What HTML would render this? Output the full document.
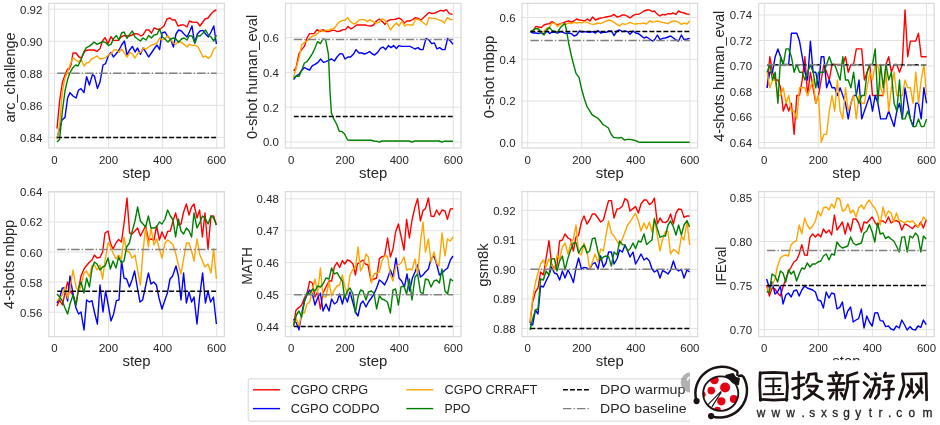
<!DOCTYPE html>
<html><head><meta charset="utf-8"><title>figure</title>
<style>html,body{margin:0;padding:0;background:#fff;}body{width:940px;height:425px;overflow:hidden;font-family:"Liberation Sans",sans-serif;}svg{display:block;will-change:transform;}</style>
</head><body>
<svg width="940" height="425" viewBox="0 0 940 425" font-family="'Liberation Sans', sans-serif" fill="#262626">
<rect width="940" height="425" fill="#fff"/>
<path d="M54.50 3.40V148.00M108.56 3.40V148.00M162.62 3.40V148.00M216.68 3.40V148.00M48.80 9.20H224.40M48.80 41.25H224.40M48.80 73.30H224.40M48.80 105.35H224.40M48.80 137.40H224.40" stroke="#e2e2e2" stroke-width="1" fill="none"/>
<clipPath id="c0"><rect x="48.80" y="3.40" width="175.60" height="144.60"/></clipPath>
<g clip-path="url(#c0)" fill="none" stroke-width="1.4" stroke-linejoin="round" stroke-linecap="butt">
<path d="M57.0 128.6L59.6 101.0L62.4 82.6L65.0 75.0L67.6 69.0L69.0 69.4L71.0 65.0L73.0 53.0L76.0 53.0L79.0 57.0L81.4 58.0L85.0 51.0L88.0 50.0L94.0 50.0L97.0 51.4L100.0 48.6L102.4 41.0L105.0 37.6L108.0 43.6L111.0 36.6L113.4 40.4L118.4 40.4L121.0 37.0L124.0 35.6L129.4 36.0L132.0 35.0L135.0 33.6L138.0 34.0L141.0 36.0L143.4 34.4L146.0 30.0L149.0 30.0L151.4 33.2L154.0 28.0L157.0 29.2L160.0 29.2L164.0 26.0L167.0 19.0L170.0 18.0L172.4 20.0L175.0 19.6L178.0 26.0L181.0 25.0L184.0 25.0L187.0 27.0L189.4 21.0L192.0 22.0L197.4 22.4L200.0 26.0L205.0 19.0L208.0 18.0L211.0 14.0L214.0 11.0L216.4 10.0" stroke="#ff0000"/>
<path d="M57.0 138.0L60.0 127.0L62.0 120.0L65.0 117.4L67.6 98.0L70.0 92.6L73.0 96.0L76.0 98.0L78.6 90.0L81.0 88.6L84.0 92.6L86.6 76.6L89.4 85.0L92.4 74.6L94.4 76.0L97.4 88.4L100.0 82.0L103.0 65.0L105.6 63.6L108.4 55.6L111.0 52.4L113.4 57.0L116.0 54.0L119.0 50.0L121.6 45.0L124.4 41.0L127.0 55.0L129.6 50.0L132.4 46.4L135.0 52.0L137.6 48.0L140.4 54.4L143.0 48.0L146.0 52.4L148.6 57.0L151.4 53.0L154.0 49.0L157.0 45.0L159.6 49.6L162.0 33.0L165.0 32.0L168.0 37.0L170.6 39.0L173.4 47.0L176.0 34.0L178.6 30.0L181.4 31.0L184.0 34.0L187.0 37.0L189.4 32.0L192.0 26.0L194.6 43.0L197.4 34.0L200.0 31.0L203.0 30.4L205.6 34.0L208.4 37.0L211.0 32.0L213.8 26.0L216.4 44.0" stroke="#0000ff"/>
<path d="M57.0 139.4L59.6 125.0L62.4 91.0L65.0 78.0L67.6 72.0L70.0 65.0L73.0 58.0L76.0 60.0L78.6 62.0L81.0 59.0L84.0 66.0L86.4 63.0L89.0 62.4L91.6 59.0L94.4 57.6L97.0 56.0L100.0 59.0L103.0 58.4L105.6 57.6L108.4 55.0L111.0 53.6L114.0 50.0L116.6 49.6L119.0 52.4L121.6 49.0L124.4 53.0L127.0 57.0L130.0 52.4L132.4 54.0L135.0 58.0L138.0 53.0L140.6 52.4L143.4 48.0L146.0 49.0L148.6 47.0L151.4 45.0L154.0 44.4L157.0 43.0L159.6 38.0L162.4 40.0L165.0 38.4L168.0 36.0L170.6 39.0L173.4 43.0L176.0 44.4L178.6 41.0L181.4 42.4L184.0 44.4L187.0 47.0L189.4 44.0L192.0 45.6L195.0 45.0L198.0 47.0L200.6 52.0L203.0 57.0L205.6 56.0L208.4 58.4L211.0 56.0L213.8 49.0L216.4 47.0" stroke="#ffa500"/>
<path d="M57.0 142.0L59.6 139.4L62.4 111.0L65.0 91.0L67.6 79.4L70.0 72.6L73.0 67.4L75.6 65.0L78.0 66.0L81.0 60.0L83.6 52.4L86.4 47.6L89.0 46.4L91.6 44.4L94.0 42.0L97.0 44.4L100.0 43.0L103.0 41.6L105.6 42.6L108.4 45.6L111.0 44.4L113.6 38.4L116.4 35.6L119.0 40.0L121.6 33.0L124.0 32.0L127.0 38.4L129.6 34.4L132.4 31.0L135.0 37.0L137.6 39.0L140.4 41.0L143.0 38.0L146.0 40.0L148.6 35.6L151.4 38.0L154.0 35.0L157.0 34.4L159.6 29.0L162.4 37.0L165.0 39.0L168.0 42.0L170.6 39.0L173.4 38.0L176.0 39.0L178.6 42.4L181.4 39.0L184.0 38.0L187.0 40.0L189.4 35.6L192.0 36.0L195.0 43.0L197.6 35.6L200.0 36.0L203.0 33.0L205.6 30.0L208.4 35.0L211.0 37.0L213.8 41.0L216.4 35.0" stroke="#008000"/>
<path d="M57.20 137.40H216.68" stroke="#000" stroke-width="1.5" stroke-dasharray="4.9 2.1"/>
<path d="M57.20 73.30H216.68" stroke="#808080" stroke-width="1.5" stroke-dasharray="8.45 2.11 1.32 2.11"/>
</g>
<rect x="48.80" y="3.40" width="175.60" height="144.60" fill="none" stroke="#dbdbdb" stroke-width="1.25"/>
<text x="42.30" y="13.60" font-size="10.6" text-anchor="end" textLength="22.26" lengthAdjust="spacingAndGlyphs">0.92</text>
<text x="42.30" y="45.65" font-size="10.6" text-anchor="end" textLength="22.26" lengthAdjust="spacingAndGlyphs">0.90</text>
<text x="42.30" y="77.70" font-size="10.6" text-anchor="end" textLength="22.26" lengthAdjust="spacingAndGlyphs">0.88</text>
<text x="42.30" y="109.75" font-size="10.6" text-anchor="end" textLength="22.26" lengthAdjust="spacingAndGlyphs">0.86</text>
<text x="42.30" y="141.80" font-size="10.6" text-anchor="end" textLength="22.26" lengthAdjust="spacingAndGlyphs">0.84</text>
<text x="54.50" y="163.70" font-size="10.6" text-anchor="middle" textLength="6.36" lengthAdjust="spacingAndGlyphs">0</text>
<text x="108.56" y="163.70" font-size="10.6" text-anchor="middle" textLength="19.08" lengthAdjust="spacingAndGlyphs">200</text>
<text x="162.62" y="163.70" font-size="10.6" text-anchor="middle" textLength="19.08" lengthAdjust="spacingAndGlyphs">400</text>
<text x="216.68" y="163.70" font-size="10.6" text-anchor="middle" textLength="19.08" lengthAdjust="spacingAndGlyphs">600</text>
<text x="136.60" y="177.80" font-size="14.0" text-anchor="middle" textLength="28.12" lengthAdjust="spacingAndGlyphs">step</text>
<text x="14.75" y="77.50" font-size="14.0" text-anchor="middle" textLength="90.04" lengthAdjust="spacingAndGlyphs" transform="rotate(-90 14.75 77.50)">arc_challenge</text>
<path d="M291.10 3.40V148.00M345.16 3.40V148.00M399.22 3.40V148.00M453.28 3.40V148.00M285.40 37.60H461.00M285.40 72.40H461.00M285.40 107.20H461.00M285.40 142.00H461.00" stroke="#e2e2e2" stroke-width="1" fill="none"/>
<clipPath id="c1"><rect x="285.40" y="3.40" width="175.60" height="144.60"/></clipPath>
<g clip-path="url(#c1)" fill="none" stroke-width="1.4" stroke-linejoin="round" stroke-linecap="butt">
<path d="M293.6 71.0L296.0 68.0L299.0 53.6L301.6 49.6L304.4 46.4L307.0 38.0L309.6 33.6L314.0 33.6L317.0 29.6L320.0 31.6L323.0 29.6L325.6 31.6L329.0 31.6L332.0 30.4L334.6 30.4L337.4 31.6L340.0 31.0L343.0 29.6L345.4 29.6L348.0 26.4L351.0 29.0L354.0 27.0L356.6 25.0L365.0 25.0L367.6 25.6L370.6 26.0L373.6 25.0L376.4 21.0L379.4 19.0L382.4 21.6L385.0 24.4L387.6 21.0L390.4 19.6L393.4 19.6L396.0 19.0L399.0 18.0L401.6 19.6L404.4 23.0L407.0 21.0L410.0 21.0L412.6 19.6L415.4 17.6L418.0 18.4L421.0 20.0L423.6 17.6L426.4 15.0L429.0 12.4L432.0 13.6L435.0 13.0L438.0 11.6L440.6 10.4L443.4 11.0L446.4 9.6L449.4 13.6L452.6 14.4" stroke="#ff0000"/>
<path d="M293.6 79.6L296.4 75.6L299.0 74.4L301.6 70.4L304.4 67.6L307.0 69.0L309.6 70.0L312.4 65.6L315.0 64.4L318.0 62.4L320.6 59.0L323.4 62.4L326.0 61.6L329.0 60.0L331.6 59.0L334.4 61.0L337.0 57.0L340.0 53.6L342.6 54.0L345.0 59.0L348.0 57.0L350.6 57.0L353.6 54.0L356.0 49.6L359.0 53.0L362.0 53.0L364.4 54.0L367.0 53.0L369.6 51.6L372.4 54.0L374.6 55.0L377.6 52.4L380.4 48.4L383.0 47.0L385.6 49.6L388.4 45.6L391.0 47.6L393.6 45.6L396.4 48.4L399.0 45.6L401.6 46.4L410.0 46.4L415.0 49.0L418.0 47.6L420.4 49.6L423.0 49.6L426.0 38.4L429.0 40.0L431.6 43.6L434.4 43.0L437.0 49.0L439.6 47.6L442.4 49.6L445.0 49.6L447.6 38.4L450.4 41.0L453.0 44.4" stroke="#0000ff"/>
<path d="M293.6 77.0L296.0 69.0L299.0 58.0L301.6 45.0L304.4 42.4L307.0 41.0L309.6 38.4L312.4 36.0L315.0 35.6L318.0 33.0L320.6 30.0L323.4 31.6L326.0 30.4L329.0 30.0L332.0 29.0L334.6 28.0L337.4 24.0L340.0 21.6L342.6 20.4L345.0 20.4L347.6 17.6L350.6 21.6L353.6 24.0L356.4 23.0L359.0 20.0L361.6 19.6L364.4 19.6L367.0 21.6L370.0 19.6L373.0 21.6L376.0 23.0L379.0 22.4L381.6 19.0L384.6 19.6L387.4 23.6L390.4 30.0L393.4 26.0L396.4 23.0L399.0 26.0L402.0 21.0L404.6 26.0L407.4 24.4L410.4 25.0L413.0 25.0L415.6 19.0L418.4 19.6L421.0 21.0L423.6 23.0L426.4 25.0L429.0 17.6L432.0 18.4L435.0 18.4L438.0 19.6L441.0 20.4L444.4 23.0L447.4 17.6L450.4 19.6L452.6 19.6" stroke="#ffa500"/>
<path d="M293.6 78.0L296.4 76.0L299.0 76.4L301.6 70.4L304.4 63.0L307.0 61.6L309.6 58.0L312.4 53.6L315.0 48.0L317.6 41.6L320.4 43.6L323.0 39.0L325.6 39.6L328.4 54.0L330.0 91.0L331.4 113.0L334.0 119.4L336.6 124.0L339.4 131.4L342.0 131.4L344.6 134.0L347.6 140.0L351.0 140.2L371.0 140.2L374.0 141.0L376.6 141.2L379.4 142.2L382.0 141.0L409.0 141.0L412.0 142.2L414.6 141.0L439.0 141.0L442.0 142.2L444.6 141.2L453.0 141.2" stroke="#008000"/>
<path d="M293.80 116.40H453.28" stroke="#000" stroke-width="1.5" stroke-dasharray="4.9 2.1"/>
<path d="M293.80 39.40H453.28" stroke="#808080" stroke-width="1.5" stroke-dasharray="8.45 2.11 1.32 2.11"/>
</g>
<rect x="285.40" y="3.40" width="175.60" height="144.60" fill="none" stroke="#dbdbdb" stroke-width="1.25"/>
<text x="278.90" y="42.00" font-size="10.6" text-anchor="end" textLength="15.90" lengthAdjust="spacingAndGlyphs">0.6</text>
<text x="278.90" y="76.80" font-size="10.6" text-anchor="end" textLength="15.90" lengthAdjust="spacingAndGlyphs">0.4</text>
<text x="278.90" y="111.60" font-size="10.6" text-anchor="end" textLength="15.90" lengthAdjust="spacingAndGlyphs">0.2</text>
<text x="278.90" y="146.40" font-size="10.6" text-anchor="end" textLength="15.90" lengthAdjust="spacingAndGlyphs">0.0</text>
<text x="291.10" y="163.70" font-size="10.6" text-anchor="middle" textLength="6.36" lengthAdjust="spacingAndGlyphs">0</text>
<text x="345.16" y="163.70" font-size="10.6" text-anchor="middle" textLength="19.08" lengthAdjust="spacingAndGlyphs">200</text>
<text x="399.22" y="163.70" font-size="10.6" text-anchor="middle" textLength="19.08" lengthAdjust="spacingAndGlyphs">400</text>
<text x="453.28" y="163.70" font-size="10.6" text-anchor="middle" textLength="19.08" lengthAdjust="spacingAndGlyphs">600</text>
<text x="373.20" y="177.80" font-size="14.0" text-anchor="middle" textLength="28.12" lengthAdjust="spacingAndGlyphs">step</text>
<text x="257.00" y="76.90" font-size="14.0" text-anchor="middle" textLength="124.29" lengthAdjust="spacingAndGlyphs" transform="rotate(-90 257.00 76.90)">0-shot human_eval</text>
<path d="M527.70 3.40V148.00M581.76 3.40V148.00M635.82 3.40V148.00M689.88 3.40V148.00M522.00 17.60H697.60M522.00 59.33H697.60M522.00 101.07H697.60M522.00 142.80H697.60" stroke="#e2e2e2" stroke-width="1" fill="none"/>
<clipPath id="c2"><rect x="522.00" y="3.40" width="175.60" height="144.60"/></clipPath>
<g clip-path="url(#c2)" fill="none" stroke-width="1.4" stroke-linejoin="round" stroke-linecap="butt">
<path d="M530.6 31.6L533.4 30.0L536.0 26.4L538.6 27.0L541.4 27.6L544.0 25.0L547.0 24.0L549.6 23.6L552.0 21.6L555.0 23.6L557.6 25.0L560.4 23.6L563.0 23.0L566.0 21.6L568.6 21.0L571.4 22.0L574.0 21.0L576.6 19.0L579.4 20.0L582.0 20.4L584.6 21.0L587.4 19.0L590.0 21.0L592.6 17.0L595.4 20.0L598.0 19.0L600.6 18.0L603.4 17.6L606.0 17.0L609.0 16.4L611.6 16.0L614.0 14.4L617.0 17.0L619.6 16.4L622.4 15.0L625.0 15.0L627.6 16.4L630.0 18.0L633.0 15.6L635.6 14.4L638.4 14.4L641.0 13.0L644.0 11.0L647.0 10.0L649.6 10.0L652.4 11.6L654.4 11.0L657.4 14.4L660.0 16.0L662.6 14.4L665.4 15.0L668.0 13.6L670.6 14.0L673.4 13.0L676.0 14.4L678.6 11.0L681.4 12.4L684.0 13.0L687.0 14.0L689.6 14.4" stroke="#ff0000"/>
<path d="M530.6 32.0L533.4 33.0L536.0 33.0L538.6 33.6L541.4 32.4L544.0 34.0L547.0 31.0L549.6 33.6L552.0 32.0L555.0 32.4L557.6 33.0L560.4 31.6L563.0 32.4L566.0 33.6L568.6 33.0L571.4 33.6L574.0 36.0L576.6 35.0L579.4 31.0L582.0 32.0L584.6 31.6L587.4 32.0L590.0 32.4L592.6 31.6L595.4 33.0L598.0 30.4L600.6 33.0L603.4 32.0L606.0 32.4L609.0 31.0L611.6 31.0L614.0 35.6L617.0 31.0L619.6 30.0L622.4 31.6L625.0 31.0L627.6 31.6L630.0 34.4L633.0 31.0L635.6 33.0L638.4 33.6L641.0 35.6L644.0 38.0L646.6 37.0L649.6 39.0L652.4 41.0L654.4 40.0L657.4 35.0L660.0 39.6L662.6 38.4L665.4 38.0L668.0 37.0L670.6 36.0L673.4 38.0L676.0 40.0L678.6 41.0L681.4 35.0L684.0 39.6L687.0 39.0L689.6 38.4" stroke="#0000ff"/>
<path d="M530.6 31.6L533.4 30.4L536.0 28.0L538.6 30.0L541.4 32.4L544.0 31.6L547.0 28.0L549.6 27.0L552.0 23.0L555.0 23.6L557.6 26.4L560.4 24.0L563.0 23.6L566.0 24.4L568.6 23.0L571.4 23.6L574.0 22.4L576.6 23.0L579.4 22.4L582.0 23.0L584.6 21.6L587.4 22.4L590.0 23.6L592.6 24.4L595.4 24.0L598.0 23.0L600.6 23.6L603.4 22.4L606.0 21.0L609.0 20.0L611.6 21.0L614.0 22.4L617.0 24.4L619.6 26.0L622.4 23.6L625.0 24.4L627.6 23.6L630.0 22.4L633.0 23.6L635.6 24.0L638.4 23.6L641.0 23.6L644.0 23.0L646.6 24.0L649.6 21.0L652.4 22.0L655.0 21.6L657.4 21.0L660.0 21.6L662.6 22.4L665.4 23.0L668.0 23.6L670.6 22.0L673.4 21.0L676.0 21.0L678.6 22.4L681.4 24.4L684.0 23.0L687.0 24.0L689.6 21.0" stroke="#ffa500"/>
<path d="M530.6 32.0L533.4 30.0L536.0 28.4L538.6 29.0L541.4 33.0L544.0 35.0L547.0 29.6L549.6 27.6L552.0 30.4L555.0 31.6L557.6 32.0L560.4 27.6L563.0 25.0L565.0 23.6L567.0 33.0L568.6 43.0L571.4 56.0L574.0 66.0L576.0 73.4L579.0 77.4L581.6 89.0L584.4 99.0L587.0 106.6L589.6 110.6L592.0 114.6L595.0 116.6L597.6 118.0L600.4 121.0L603.0 124.6L605.6 126.0L608.4 128.0L611.0 134.0L613.6 137.4L616.4 137.8L619.0 138.0L621.6 137.4L624.4 140.0L627.0 139.4L630.0 139.4L633.0 140.0L635.6 140.6L638.4 142.0L641.0 142.2L689.6 142.2" stroke="#008000"/>
<path d="M530.40 31.60H689.88" stroke="#000" stroke-width="1.5" stroke-dasharray="4.9 2.1"/>
<path d="M530.40 40.40H689.88" stroke="#808080" stroke-width="1.5" stroke-dasharray="8.45 2.11 1.32 2.11"/>
</g>
<rect x="522.00" y="3.40" width="175.60" height="144.60" fill="none" stroke="#dbdbdb" stroke-width="1.25"/>
<text x="515.50" y="22.00" font-size="10.6" text-anchor="end" textLength="15.90" lengthAdjust="spacingAndGlyphs">0.6</text>
<text x="515.50" y="63.73" font-size="10.6" text-anchor="end" textLength="15.90" lengthAdjust="spacingAndGlyphs">0.4</text>
<text x="515.50" y="105.47" font-size="10.6" text-anchor="end" textLength="15.90" lengthAdjust="spacingAndGlyphs">0.2</text>
<text x="515.50" y="147.20" font-size="10.6" text-anchor="end" textLength="15.90" lengthAdjust="spacingAndGlyphs">0.0</text>
<text x="527.70" y="163.70" font-size="10.6" text-anchor="middle" textLength="6.36" lengthAdjust="spacingAndGlyphs">0</text>
<text x="581.76" y="163.70" font-size="10.6" text-anchor="middle" textLength="19.08" lengthAdjust="spacingAndGlyphs">200</text>
<text x="635.82" y="163.70" font-size="10.6" text-anchor="middle" textLength="19.08" lengthAdjust="spacingAndGlyphs">400</text>
<text x="689.88" y="163.70" font-size="10.6" text-anchor="middle" textLength="19.08" lengthAdjust="spacingAndGlyphs">600</text>
<text x="609.80" y="177.80" font-size="14.0" text-anchor="middle" textLength="28.12" lengthAdjust="spacingAndGlyphs">step</text>
<text x="494.00" y="76.90" font-size="14.0" text-anchor="middle" textLength="82.59" lengthAdjust="spacingAndGlyphs" transform="rotate(-90 494.00 76.90)">0-shot mbpp</text>
<path d="M764.30 3.40V148.00M818.36 3.40V148.00M872.42 3.40V148.00M926.48 3.40V148.00M758.60 15.00H934.20M758.60 40.50H934.20M758.60 66.00H934.20M758.60 91.50H934.20M758.60 117.00H934.20M758.60 142.50H934.20" stroke="#e2e2e2" stroke-width="1" fill="none"/>
<clipPath id="c3"><rect x="758.60" y="3.40" width="175.60" height="144.60"/></clipPath>
<g clip-path="url(#c3)" fill="none" stroke-width="1.4" stroke-linejoin="round" stroke-linecap="butt">
<path d="M767.1 87.8L769.8 56.7L772.5 72.2L775.2 80.0L777.9 80.0L780.6 87.8L783.3 111.1L786.0 103.3L788.7 111.1L791.4 103.3L794.1 134.4L796.8 95.5L799.5 95.5L802.2 80.0L804.9 56.7L807.6 95.5L810.4 72.2L813.1 87.8L815.8 103.3L818.5 95.5L821.2 80.0L823.9 64.4L826.6 72.2L829.3 80.0L832.0 64.4L834.7 64.4L837.4 64.4L840.1 64.4L842.8 64.4L845.5 56.7L848.2 72.2L850.9 64.4L853.6 64.4L856.3 48.9L859.0 48.9L861.7 48.9L864.4 80.0L867.1 72.2L869.8 64.4L872.5 95.5L875.2 95.5L877.9 95.5L880.6 95.5L883.3 95.5L886.0 64.4L888.7 56.7L891.4 72.2L894.1 64.4L896.8 64.4L899.5 72.2L902.3 64.4L905.0 10.0L907.7 56.7L910.4 41.1L913.1 41.1L915.8 41.1L918.5 33.3L921.2 56.7L923.9 56.7L926.6 56.7" stroke="#ff0000"/>
<path d="M767.1 87.8L769.8 72.2L772.5 72.2L775.2 56.7L777.9 48.9L780.6 56.7L783.3 64.4L786.0 64.4L788.7 64.4L791.4 33.3L794.1 33.3L796.8 33.3L799.5 41.1L802.2 56.7L804.9 72.2L807.6 80.0L810.4 41.1L813.1 72.2L815.8 72.2L818.5 87.8L821.2 56.7L823.9 56.7L826.6 87.8L829.3 80.0L832.0 87.8L834.7 87.8L837.4 95.5L840.1 87.8L842.8 95.5L845.5 103.3L848.2 118.9L850.9 103.3L853.6 95.5L856.3 95.5L859.0 80.0L861.7 118.9L864.4 111.1L867.1 103.3L869.8 95.5L872.5 111.1L875.2 95.5L877.9 103.3L880.6 118.9L883.3 118.9L886.0 118.9L888.7 111.1L891.4 118.9L894.1 126.6L896.8 111.1L899.5 103.3L902.3 118.9L905.0 87.8L907.7 103.3L910.4 118.9L913.1 126.6L915.8 103.3L918.5 103.3L921.2 118.9L923.9 87.8L926.6 103.3" stroke="#0000ff"/>
<path d="M767.1 72.2L769.8 87.8L772.5 80.0L775.2 80.0L777.9 95.5L780.6 95.5L783.3 87.8L786.0 103.3L788.7 95.5L791.4 111.1L794.1 111.1L796.8 118.9L799.5 87.8L802.2 87.8L804.9 87.8L807.6 95.5L810.4 87.8L813.1 80.0L815.8 103.3L818.5 95.5L821.2 142.2L823.9 134.4L826.6 134.4L829.3 111.1L832.0 95.5L834.7 111.1L837.4 80.0L840.1 111.1L842.8 118.9L845.5 87.8L848.2 111.1L850.9 103.3L853.6 95.5L856.3 118.9L859.0 95.5L861.7 103.3L864.4 103.3L867.1 87.8L869.8 72.2L872.5 80.0L875.2 64.4L877.9 64.4L880.6 87.8L883.3 95.5L886.0 72.2L888.7 111.1L891.4 87.8L894.1 72.2L896.8 95.5L899.5 95.5L902.3 95.5L905.0 80.0L907.7 87.8L910.4 87.8L913.1 103.3L915.8 72.2L918.5 103.3L921.2 80.0L923.9 64.4L926.6 95.5" stroke="#ffa500"/>
<path d="M767.1 72.2L769.8 64.4L772.5 80.0L775.2 72.2L777.9 103.3L780.6 56.7L783.3 64.4L786.0 48.9L788.7 48.9L791.4 56.7L794.1 72.2L796.8 64.4L799.5 72.2L802.2 72.2L804.9 80.0L807.6 72.2L810.4 64.4L813.1 72.2L815.8 87.8L818.5 72.2L821.2 72.2L823.9 72.2L826.6 64.4L829.3 56.7L832.0 64.4L834.7 64.4L837.4 72.2L840.1 80.0L842.8 56.7L845.5 80.0L848.2 80.0L850.9 87.8L853.6 72.2L856.3 95.5L859.0 103.3L861.7 95.5L864.4 95.5L867.1 72.2L869.8 64.4L872.5 64.4L875.2 48.9L877.9 103.3L880.6 64.4L883.3 87.8L886.0 64.4L888.7 80.0L891.4 72.2L894.1 103.3L896.8 111.1L899.5 80.0L902.3 118.9L905.0 118.9L907.7 111.1L910.4 118.9L913.1 126.6L915.8 126.6L918.5 118.9L921.2 126.6L923.9 126.6L926.6 118.9" stroke="#008000"/>
<path d="M767.00 64.80H926.48" stroke="#000" stroke-width="1.5" stroke-dasharray="4.9 2.1"/>
<path d="M767.00 64.80H926.48" stroke="#808080" stroke-width="1.5" stroke-dasharray="8.45 2.11 1.32 2.11"/>
</g>
<rect x="758.60" y="3.40" width="175.60" height="144.60" fill="none" stroke="#dbdbdb" stroke-width="1.25"/>
<text x="752.10" y="19.40" font-size="10.6" text-anchor="end" textLength="22.26" lengthAdjust="spacingAndGlyphs">0.74</text>
<text x="752.10" y="44.90" font-size="10.6" text-anchor="end" textLength="22.26" lengthAdjust="spacingAndGlyphs">0.72</text>
<text x="752.10" y="70.40" font-size="10.6" text-anchor="end" textLength="22.26" lengthAdjust="spacingAndGlyphs">0.70</text>
<text x="752.10" y="95.90" font-size="10.6" text-anchor="end" textLength="22.26" lengthAdjust="spacingAndGlyphs">0.68</text>
<text x="752.10" y="121.40" font-size="10.6" text-anchor="end" textLength="22.26" lengthAdjust="spacingAndGlyphs">0.66</text>
<text x="752.10" y="146.90" font-size="10.6" text-anchor="end" textLength="22.26" lengthAdjust="spacingAndGlyphs">0.64</text>
<text x="764.30" y="163.70" font-size="10.6" text-anchor="middle" textLength="6.36" lengthAdjust="spacingAndGlyphs">0</text>
<text x="818.36" y="163.70" font-size="10.6" text-anchor="middle" textLength="19.08" lengthAdjust="spacingAndGlyphs">200</text>
<text x="872.42" y="163.70" font-size="10.6" text-anchor="middle" textLength="19.08" lengthAdjust="spacingAndGlyphs">400</text>
<text x="926.48" y="163.70" font-size="10.6" text-anchor="middle" textLength="19.08" lengthAdjust="spacingAndGlyphs">600</text>
<text x="846.40" y="177.80" font-size="14.0" text-anchor="middle" textLength="28.12" lengthAdjust="spacingAndGlyphs">step</text>
<text x="724.30" y="76.30" font-size="14.0" text-anchor="middle" textLength="131.07" lengthAdjust="spacingAndGlyphs" transform="rotate(-90 724.30 76.30)">4-shots human_eval</text>
<path d="M54.50 191.60V336.60M108.56 191.60V336.60M162.62 191.60V336.60M216.68 191.60V336.60M48.80 192.00H224.40M48.80 222.05H224.40M48.80 252.10H224.40M48.80 282.15H224.40M48.80 312.20H224.40" stroke="#e2e2e2" stroke-width="1" fill="none"/>
<clipPath id="c4"><rect x="48.80" y="191.60" width="175.60" height="145.00"/></clipPath>
<g clip-path="url(#c4)" fill="none" stroke-width="1.4" stroke-linejoin="round" stroke-linecap="butt">
<path d="M57.0 306.0L59.6 300.0L62.4 305.0L65.0 293.0L67.6 282.0L70.0 291.0L73.0 295.0L76.0 305.0L78.6 289.0L81.0 276.0L84.0 269.0L87.0 265.0L89.6 262.0L92.0 260.0L94.4 255.0L97.0 258.0L100.0 257.4L102.6 252.0L105.0 233.0L108.0 231.0L110.4 243.0L113.0 249.0L116.0 243.0L118.6 239.4L121.4 242.0L124.0 224.0L127.0 198.0L129.6 233.0L132.0 234.0L135.0 231.0L137.6 228.0L140.4 236.0L143.0 231.0L145.6 226.0L148.4 240.0L151.0 239.0L154.0 240.0L156.6 226.0L159.4 240.0L162.0 232.0L165.0 239.0L167.6 231.4L170.4 231.0L173.0 221.0L175.6 213.0L178.4 225.0L181.0 224.0L183.6 212.0L186.4 204.0L189.0 215.0L191.6 207.0L194.0 204.0L197.0 218.0L199.6 210.0L202.4 237.0L205.0 213.0L208.0 249.0L211.0 216.0L213.6 216.0L216.4 225.0" stroke="#ff0000"/>
<path d="M57.0 303.0L59.6 298.0L62.4 288.0L65.0 288.0L67.6 301.0L70.0 276.0L73.0 294.0L76.0 308.0L78.6 314.0L81.0 312.0L84.0 330.0L86.6 300.0L89.4 302.0L92.0 300.6L94.4 312.0L97.4 324.0L100.0 285.0L103.0 312.0L105.6 291.0L108.4 306.0L111.0 321.0L113.6 314.0L116.4 300.6L119.0 300.0L121.6 261.0L124.0 278.0L126.6 279.0L129.4 287.0L132.0 280.0L134.6 271.0L137.4 288.0L140.0 302.0L142.6 300.0L145.4 287.0L148.4 273.0L151.0 284.0L153.6 282.0L156.4 285.0L159.0 298.0L162.0 309.0L164.6 301.0L167.4 293.0L170.0 279.0L172.6 276.0L176.0 266.0L178.4 276.0L181.0 300.0L183.6 273.0L186.4 303.0L189.0 292.0L191.6 302.0L194.0 297.0L197.0 324.0L199.6 297.0L202.6 273.0L205.4 303.0L208.0 291.0L210.6 302.0L213.4 297.0L216.4 324.0" stroke="#0000ff"/>
<path d="M57.0 301.0L59.6 298.0L62.4 295.0L65.0 287.0L67.6 298.0L70.0 289.0L73.0 270.0L76.0 287.0L78.6 292.0L81.0 286.0L84.0 273.0L86.6 271.0L89.4 277.0L92.0 266.0L94.4 265.0L97.0 270.0L100.0 265.0L102.6 279.0L105.0 261.0L108.0 243.0L110.4 246.0L113.0 253.0L116.0 259.0L118.6 255.0L121.4 259.0L124.0 237.0L126.6 251.0L129.4 252.0L132.0 258.0L135.0 255.0L137.6 270.0L140.4 285.0L143.0 251.0L145.6 228.0L148.4 247.0L151.0 228.0L154.0 245.0L156.6 239.0L159.4 249.0L162.0 258.0L165.0 243.0L167.6 240.0L170.4 242.0L173.0 245.0L175.6 253.0L178.4 265.0L181.0 274.0L183.6 259.0L186.4 243.0L189.0 243.0L191.6 251.0L194.0 261.0L197.0 239.0L199.6 254.0L202.4 261.0L205.0 267.0L208.0 264.0L211.0 273.0L213.6 249.0L216.4 279.0" stroke="#ffa500"/>
<path d="M57.0 294.0L59.6 297.0L62.4 301.0L65.0 308.0L67.6 314.0L70.0 304.0L73.0 295.0L76.0 305.0L78.6 288.0L81.0 282.0L84.0 293.0L86.6 278.0L89.4 287.0L92.0 269.0L94.4 262.0L97.0 264.0L100.0 270.0L102.6 267.0L105.0 266.0L108.0 258.0L110.4 269.0L113.0 261.0L116.0 268.0L118.6 257.0L121.4 263.0L124.0 261.0L126.6 247.0L129.4 243.0L132.0 232.0L135.0 221.0L137.6 207.0L140.4 221.0L143.0 224.0L145.6 227.0L148.4 216.0L151.0 228.0L154.0 228.0L156.6 227.0L159.4 222.0L162.0 224.0L165.0 219.0L167.6 210.0L170.4 216.0L173.0 220.0L175.6 237.0L178.4 219.0L181.0 231.0L183.6 234.0L186.4 228.0L189.0 231.0L191.6 237.0L194.0 213.0L197.0 228.0L199.6 223.0L202.4 216.0L205.0 218.0L208.0 224.0L211.0 216.0L213.6 218.0L216.4 225.0" stroke="#008000"/>
<path d="M57.20 291.20H216.68" stroke="#000" stroke-width="1.5" stroke-dasharray="4.9 2.1"/>
<path d="M57.20 249.40H216.68" stroke="#808080" stroke-width="1.5" stroke-dasharray="8.45 2.11 1.32 2.11"/>
</g>
<rect x="48.80" y="191.60" width="175.60" height="145.00" fill="none" stroke="#dbdbdb" stroke-width="1.25"/>
<text x="42.30" y="196.40" font-size="10.6" text-anchor="end" textLength="22.26" lengthAdjust="spacingAndGlyphs">0.64</text>
<text x="42.30" y="226.45" font-size="10.6" text-anchor="end" textLength="22.26" lengthAdjust="spacingAndGlyphs">0.62</text>
<text x="42.30" y="256.50" font-size="10.6" text-anchor="end" textLength="22.26" lengthAdjust="spacingAndGlyphs">0.60</text>
<text x="42.30" y="286.55" font-size="10.6" text-anchor="end" textLength="22.26" lengthAdjust="spacingAndGlyphs">0.58</text>
<text x="42.30" y="316.60" font-size="10.6" text-anchor="end" textLength="22.26" lengthAdjust="spacingAndGlyphs">0.56</text>
<text x="54.50" y="352.30" font-size="10.6" text-anchor="middle" textLength="6.36" lengthAdjust="spacingAndGlyphs">0</text>
<text x="108.56" y="352.30" font-size="10.6" text-anchor="middle" textLength="19.08" lengthAdjust="spacingAndGlyphs">200</text>
<text x="162.62" y="352.30" font-size="10.6" text-anchor="middle" textLength="19.08" lengthAdjust="spacingAndGlyphs">400</text>
<text x="216.68" y="352.30" font-size="10.6" text-anchor="middle" textLength="19.08" lengthAdjust="spacingAndGlyphs">600</text>
<text x="136.60" y="366.40" font-size="14.0" text-anchor="middle" textLength="28.12" lengthAdjust="spacingAndGlyphs">step</text>
<text x="14.40" y="264.40" font-size="14.0" text-anchor="middle" textLength="89.36" lengthAdjust="spacingAndGlyphs" transform="rotate(-90 14.40 264.40)">4-shots mbpp</text>
<path d="M291.10 191.60V336.60M345.16 191.60V336.60M399.22 191.60V336.60M453.28 191.60V336.60M285.40 198.80H461.00M285.40 230.70H461.00M285.40 262.60H461.00M285.40 294.50H461.00M285.40 326.40H461.00" stroke="#e2e2e2" stroke-width="1" fill="none"/>
<clipPath id="c5"><rect x="285.40" y="191.60" width="175.60" height="145.00"/></clipPath>
<g clip-path="url(#c5)" fill="none" stroke-width="1.4" stroke-linejoin="round" stroke-linecap="butt">
<path d="M293.6 325.0L296.0 310.0L299.0 307.4L301.6 305.0L304.4 298.0L307.0 294.0L309.6 281.4L312.4 283.0L315.0 297.0L317.6 292.0L320.4 309.0L323.0 293.0L326.0 287.0L329.0 281.0L331.6 281.0L334.4 266.6L337.0 262.6L339.6 267.4L342.4 260.6L344.6 264.0L347.4 260.0L350.0 261.0L353.0 264.0L355.4 275.0L357.4 264.0L360.0 262.0L363.0 260.0L365.4 264.0L368.0 265.0L371.0 281.0L374.0 279.0L376.6 278.0L379.4 258.6L382.0 256.6L384.6 256.0L387.6 238.0L390.4 257.0L393.0 249.0L395.6 232.0L398.4 224.0L401.0 236.0L404.0 250.0L406.6 219.4L409.4 238.0L412.0 220.0L415.0 207.0L417.6 198.6L420.4 221.0L423.0 210.6L425.4 208.6L428.4 198.0L431.0 216.0L434.0 216.6L436.6 210.0L439.4 215.0L442.0 210.0L445.0 211.0L447.4 219.4L450.4 209.0L453.0 208.6" stroke="#ff0000"/>
<path d="M293.6 319.0L296.4 323.0L299.0 330.0L301.6 314.0L304.4 301.0L307.0 295.0L309.6 290.0L312.4 294.0L315.0 305.0L317.6 298.0L320.4 293.0L323.0 311.0L326.0 304.0L329.0 311.0L331.6 299.0L334.4 304.0L337.0 302.0L339.6 294.0L342.4 304.0L344.6 295.0L347.4 302.0L350.0 292.0L353.0 303.0L355.4 312.0L358.0 316.0L360.6 304.0L363.0 301.0L366.0 307.0L368.4 302.0L371.4 298.0L374.0 294.0L376.6 288.0L379.4 280.0L382.0 282.0L384.6 285.0L387.4 279.0L390.4 270.0L393.0 277.0L396.0 258.0L399.0 278.0L401.6 281.0L404.4 287.0L407.0 274.0L409.6 291.0L412.4 278.0L415.0 272.0L417.6 265.0L420.4 277.0L423.0 275.0L425.4 272.0L428.4 269.0L431.0 259.0L434.0 256.0L436.6 264.0L439.4 275.0L442.0 273.0L445.0 270.0L447.6 268.0L450.4 260.0L453.0 256.0" stroke="#0000ff"/>
<path d="M293.6 324.0L296.4 319.0L299.0 326.0L301.6 313.0L304.4 313.0L307.0 304.0L309.6 302.0L312.4 290.0L315.0 279.0L317.6 293.0L320.4 268.0L323.0 296.0L326.0 297.0L329.0 282.0L331.6 296.0L334.4 290.0L337.0 286.0L339.6 285.0L342.4 275.0L344.6 286.0L347.4 294.0L350.0 275.0L353.0 269.0L355.4 268.0L358.0 247.0L360.6 271.0L363.0 266.0L366.0 254.0L368.4 257.0L371.4 283.0L374.0 274.0L376.6 273.0L379.4 272.0L382.0 261.0L384.6 256.0L387.4 256.0L390.4 275.0L393.0 281.0L395.6 267.0L398.4 265.0L401.0 263.0L404.0 257.0L406.6 270.0L409.4 269.0L412.0 270.0L415.0 259.0L417.6 275.0L420.4 243.0L423.0 222.0L425.4 252.0L428.4 239.0L431.0 262.0L434.0 252.0L436.6 263.0L439.0 266.0L442.0 233.0L445.0 256.0L447.4 239.0L450.4 241.0L453.0 237.0" stroke="#ffa500"/>
<path d="M293.6 326.0L296.4 315.0L299.0 311.0L301.6 317.0L304.4 302.0L307.0 293.0L309.6 294.0L312.4 289.0L315.0 291.0L317.6 286.0L320.4 287.0L323.0 284.0L326.0 278.0L329.0 279.0L331.6 268.0L334.4 274.0L337.0 272.6L339.6 277.0L342.4 281.0L344.6 298.0L347.4 291.0L350.0 288.0L353.0 294.0L355.4 313.0L358.0 297.0L360.6 290.0L363.0 291.0L366.0 300.0L368.4 292.0L371.4 291.0L374.0 293.0L376.6 309.0L379.4 296.0L382.0 299.0L384.6 300.0L387.4 302.0L390.4 313.0L393.0 290.0L395.6 289.0L398.4 305.0L401.0 287.0L404.0 286.0L406.6 294.0L409.4 279.0L412.0 300.0L415.0 277.0L417.6 274.0L420.4 292.0L423.0 294.0L425.4 279.0L428.4 280.0L431.0 287.0L434.0 281.0L436.6 280.0L439.4 283.0L442.0 269.0L445.0 291.0L447.6 294.0L450.4 279.0L453.0 281.0" stroke="#008000"/>
<path d="M293.80 326.60H453.28" stroke="#000" stroke-width="1.5" stroke-dasharray="4.9 2.1"/>
<path d="M293.80 294.80H453.28" stroke="#808080" stroke-width="1.5" stroke-dasharray="8.45 2.11 1.32 2.11"/>
</g>
<rect x="285.40" y="191.60" width="175.60" height="145.00" fill="none" stroke="#dbdbdb" stroke-width="1.25"/>
<text x="278.90" y="203.20" font-size="10.6" text-anchor="end" textLength="22.26" lengthAdjust="spacingAndGlyphs">0.48</text>
<text x="278.90" y="235.10" font-size="10.6" text-anchor="end" textLength="22.26" lengthAdjust="spacingAndGlyphs">0.47</text>
<text x="278.90" y="267.00" font-size="10.6" text-anchor="end" textLength="22.26" lengthAdjust="spacingAndGlyphs">0.46</text>
<text x="278.90" y="298.90" font-size="10.6" text-anchor="end" textLength="22.26" lengthAdjust="spacingAndGlyphs">0.45</text>
<text x="278.90" y="330.80" font-size="10.6" text-anchor="end" textLength="22.26" lengthAdjust="spacingAndGlyphs">0.44</text>
<text x="291.10" y="352.30" font-size="10.6" text-anchor="middle" textLength="6.36" lengthAdjust="spacingAndGlyphs">0</text>
<text x="345.16" y="352.30" font-size="10.6" text-anchor="middle" textLength="19.08" lengthAdjust="spacingAndGlyphs">200</text>
<text x="399.22" y="352.30" font-size="10.6" text-anchor="middle" textLength="19.08" lengthAdjust="spacingAndGlyphs">400</text>
<text x="453.28" y="352.30" font-size="10.6" text-anchor="middle" textLength="19.08" lengthAdjust="spacingAndGlyphs">600</text>
<text x="373.20" y="366.40" font-size="14.0" text-anchor="middle" textLength="28.12" lengthAdjust="spacingAndGlyphs">step</text>
<text x="251.90" y="265.90" font-size="14.0" text-anchor="middle" textLength="37.83" lengthAdjust="spacingAndGlyphs" transform="rotate(-90 251.90 265.90)">MATH</text>
<path d="M527.70 191.60V336.60M581.76 191.60V336.60M635.82 191.60V336.60M689.88 191.60V336.60M522.00 210.30H697.60M522.00 239.85H697.60M522.00 269.40H697.60M522.00 298.95H697.60M522.00 328.50H697.60" stroke="#e2e2e2" stroke-width="1" fill="none"/>
<clipPath id="c6"><rect x="522.00" y="191.60" width="175.60" height="145.00"/></clipPath>
<g clip-path="url(#c6)" fill="none" stroke-width="1.4" stroke-linejoin="round" stroke-linecap="butt">
<path d="M530.0 323.0L532.6 302.0L535.4 292.0L538.0 288.0L540.6 272.0L543.4 275.0L546.0 259.0L549.0 240.6L551.6 264.0L554.4 269.0L557.0 265.0L559.6 241.0L562.4 240.0L565.0 234.0L568.0 238.0L570.6 239.4L573.4 251.0L576.0 237.0L578.6 235.4L581.4 222.0L584.0 216.0L587.0 224.0L589.6 220.0L592.4 214.0L595.0 214.0L598.0 218.0L600.6 222.0L603.4 220.0L606.0 210.0L608.6 200.6L611.4 200.6L614.0 218.0L617.0 209.0L619.6 208.6L622.4 206.0L625.0 198.6L627.6 200.6L630.0 211.0L633.0 208.6L635.6 206.6L638.4 213.0L641.0 204.0L644.0 200.0L646.6 200.0L649.4 204.6L652.0 202.6L654.4 198.0L657.4 224.0L660.0 218.0L662.6 222.0L665.4 222.6L668.0 220.6L670.6 214.0L673.4 224.0L676.0 213.0L678.6 209.0L681.4 209.4L684.0 217.4L687.0 216.0L689.6 216.0" stroke="#ff0000"/>
<path d="M530.0 324.0L532.6 325.0L535.4 310.0L538.0 314.0L540.6 286.0L543.4 287.0L546.0 281.0L549.0 275.0L551.6 267.0L554.4 273.0L557.0 274.0L559.6 280.0L562.4 271.0L565.0 278.0L568.0 270.0L570.6 275.0L573.4 282.6L576.0 268.0L578.6 258.0L581.4 269.0L584.0 267.4L587.0 268.0L589.6 269.4L592.4 264.0L595.0 262.6L598.0 269.0L600.6 256.0L603.4 267.0L606.0 263.0L608.6 252.0L611.4 252.0L614.0 264.0L617.0 259.0L619.6 250.0L622.4 252.0L625.0 245.0L627.6 251.0L630.0 257.0L633.0 252.0L635.6 264.0L638.4 259.0L641.0 254.0L644.0 260.0L646.6 258.0L649.4 261.0L652.0 269.0L654.4 272.0L657.4 270.0L660.0 278.0L662.6 270.6L665.4 272.0L668.0 274.0L670.6 270.0L673.4 261.0L676.0 269.0L678.6 271.0L681.4 269.4L684.0 278.0L687.0 270.0L689.6 272.0" stroke="#0000ff"/>
<path d="M530.0 322.0L532.6 299.0L535.4 283.0L538.0 273.0L540.6 264.0L543.4 260.0L546.0 267.0L549.0 259.0L551.6 265.0L554.4 270.0L557.0 255.0L559.6 259.0L562.4 247.0L565.0 243.0L568.0 254.0L570.6 244.0L573.4 239.0L576.0 225.0L578.6 253.0L581.4 255.0L584.0 243.0L587.0 251.0L589.6 269.0L592.4 262.0L595.0 254.0L598.0 262.0L600.6 249.0L603.4 251.0L606.0 235.0L608.6 221.0L611.4 233.0L614.0 236.0L617.0 241.0L619.6 245.0L622.4 239.0L625.0 232.0L627.6 225.0L630.0 222.0L633.0 217.0L635.6 213.4L638.4 221.0L641.0 231.0L644.0 223.0L646.6 229.0L649.4 222.0L652.0 232.0L654.4 218.0L657.4 236.0L660.0 251.0L662.6 239.0L665.4 231.4L668.0 231.4L670.6 254.0L673.4 249.4L676.0 251.0L678.6 254.0L681.4 236.0L684.0 240.0L687.0 221.0L689.6 245.0" stroke="#ffa500"/>
<path d="M530.0 330.0L532.6 319.0L535.4 310.0L538.0 309.0L540.6 279.0L543.4 280.0L546.0 271.0L549.0 275.0L551.6 259.0L554.4 258.6L557.0 271.0L559.6 261.0L562.4 256.0L565.0 270.0L568.0 258.0L570.6 250.0L573.4 243.0L576.0 242.6L578.6 253.0L581.4 248.0L584.0 245.0L587.0 253.0L589.6 251.0L592.4 238.6L595.0 238.0L598.0 252.0L600.6 260.0L603.4 257.0L606.0 256.0L608.6 256.6L611.4 266.0L614.0 252.0L617.0 255.0L619.6 241.0L622.4 244.6L625.0 245.0L627.6 251.0L630.0 249.0L633.0 243.0L635.6 248.6L638.4 241.0L641.0 242.0L644.0 234.0L646.6 244.6L649.4 242.0L652.0 240.0L654.4 219.0L657.4 229.0L660.0 237.4L662.6 236.0L665.4 236.0L668.0 225.0L670.6 221.0L673.4 227.0L676.0 235.0L678.6 225.0L681.4 235.0L684.0 225.0L687.0 220.6L689.6 227.0" stroke="#008000"/>
<path d="M530.40 328.60H689.88" stroke="#000" stroke-width="1.5" stroke-dasharray="4.9 2.1"/>
<path d="M530.40 269.20H689.88" stroke="#808080" stroke-width="1.5" stroke-dasharray="8.45 2.11 1.32 2.11"/>
</g>
<rect x="522.00" y="191.60" width="175.60" height="145.00" fill="none" stroke="#dbdbdb" stroke-width="1.25"/>
<text x="515.50" y="214.70" font-size="10.6" text-anchor="end" textLength="22.26" lengthAdjust="spacingAndGlyphs">0.92</text>
<text x="515.50" y="244.25" font-size="10.6" text-anchor="end" textLength="22.26" lengthAdjust="spacingAndGlyphs">0.91</text>
<text x="515.50" y="273.80" font-size="10.6" text-anchor="end" textLength="22.26" lengthAdjust="spacingAndGlyphs">0.90</text>
<text x="515.50" y="303.35" font-size="10.6" text-anchor="end" textLength="22.26" lengthAdjust="spacingAndGlyphs">0.89</text>
<text x="515.50" y="332.90" font-size="10.6" text-anchor="end" textLength="22.26" lengthAdjust="spacingAndGlyphs">0.88</text>
<text x="527.70" y="352.30" font-size="10.6" text-anchor="middle" textLength="6.36" lengthAdjust="spacingAndGlyphs">0</text>
<text x="581.76" y="352.30" font-size="10.6" text-anchor="middle" textLength="19.08" lengthAdjust="spacingAndGlyphs">200</text>
<text x="635.82" y="352.30" font-size="10.6" text-anchor="middle" textLength="19.08" lengthAdjust="spacingAndGlyphs">400</text>
<text x="689.88" y="352.30" font-size="10.6" text-anchor="middle" textLength="19.08" lengthAdjust="spacingAndGlyphs">600</text>
<text x="609.80" y="366.40" font-size="14.0" text-anchor="middle" textLength="28.12" lengthAdjust="spacingAndGlyphs">step</text>
<text x="488.10" y="265.10" font-size="14.0" text-anchor="middle" textLength="43.48" lengthAdjust="spacingAndGlyphs" transform="rotate(-90 488.10 265.10)">gsm8k</text>
<path d="M764.30 191.60V336.60M818.36 191.60V336.60M872.42 191.60V336.60M926.48 191.60V336.60M758.60 197.40H934.20M758.60 241.50H934.20M758.60 285.50H934.20M758.60 329.60H934.20" stroke="#e2e2e2" stroke-width="1" fill="none"/>
<clipPath id="c7"><rect x="758.60" y="191.60" width="175.60" height="145.00"/></clipPath>
<g clip-path="url(#c7)" fill="none" stroke-width="1.4" stroke-linejoin="round" stroke-linecap="butt">
<path d="M766.6 285.0L769.4 296.0L772.0 288.0L775.0 289.0L777.6 293.0L780.4 296.0L783.0 287.0L785.8 279.0L788.4 272.0L791.2 267.0L793.8 262.0L796.6 260.0L799.2 254.0L801.8 244.6L804.6 255.0L807.2 255.4L810.0 237.4L812.6 234.0L815.4 237.0L818.0 234.0L820.8 237.0L823.4 229.0L826.2 233.0L829.0 230.0L831.6 235.0L834.4 215.0L837.0 230.0L839.8 226.0L842.4 222.0L845.2 234.0L847.8 223.0L850.6 231.0L853.2 219.0L856.0 219.0L858.6 223.0L861.4 232.0L864.0 222.0L866.8 223.0L869.4 220.0L872.2 217.0L874.8 222.0L877.6 226.0L880.2 221.0L883.0 221.0L885.6 223.0L888.4 217.0L891.0 223.0L893.8 221.0L896.4 220.6L899.2 222.0L901.8 230.0L904.6 224.0L907.2 225.0L910.0 227.0L912.6 228.6L915.4 225.0L918.0 227.0L920.8 222.0L923.4 228.0L926.2 220.0" stroke="#ff0000"/>
<path d="M766.6 279.0L769.4 288.0L772.0 282.0L775.0 294.0L777.6 292.0L780.4 286.0L783.0 304.0L785.8 295.0L788.4 293.0L791.2 297.0L793.8 291.0L796.6 290.0L799.2 296.0L801.8 290.0L804.6 286.0L807.2 288.0L810.0 289.0L812.6 290.0L815.4 292.0L818.0 300.0L820.8 301.0L823.4 308.0L826.2 292.0L829.0 298.0L831.6 293.0L834.4 294.0L837.0 309.0L839.8 307.4L842.4 302.0L845.2 318.6L847.8 311.0L850.6 307.0L853.2 322.0L856.0 320.0L858.6 318.6L861.4 309.0L864.0 328.0L866.8 316.0L869.4 322.0L872.2 326.0L874.8 313.0L877.6 312.6L880.2 320.6L883.0 321.0L885.6 326.6L888.4 326.0L891.0 329.0L893.8 330.0L896.4 326.0L899.2 328.0L901.8 320.0L904.6 325.0L907.2 330.0L910.0 326.6L912.6 329.4L915.4 330.0L918.0 326.0L920.8 327.4L923.4 320.0L926.2 324.6" stroke="#0000ff"/>
<path d="M766.6 287.0L769.4 292.0L772.0 285.0L775.0 279.0L777.6 266.0L780.4 258.0L783.0 256.0L785.8 255.0L788.4 256.0L791.0 245.0L793.8 242.0L796.4 241.0L799.2 225.0L801.8 234.0L804.6 218.0L807.2 225.0L810.0 229.0L812.6 226.0L815.4 221.0L818.0 211.0L820.8 216.0L823.4 208.0L826.2 207.0L829.0 210.0L831.6 204.0L834.4 208.0L837.0 198.0L839.8 199.0L842.4 211.0L845.2 210.0L847.8 204.0L850.6 213.0L853.2 210.0L856.0 217.0L858.6 208.0L861.4 205.0L864.0 209.0L866.8 203.0L869.4 200.0L872.2 205.0L874.8 208.0L877.6 214.0L880.2 225.0L883.0 207.0L885.6 217.0L888.4 211.0L891.0 213.0L893.8 222.0L896.4 213.0L899.2 221.0L901.8 221.0L904.6 223.0L907.2 221.0L910.0 222.0L912.6 221.0L915.4 224.0L918.0 227.0L920.8 224.0L923.4 217.0L926.2 220.0" stroke="#ffa500"/>
<path d="M766.6 292.0L769.4 292.0L772.0 274.0L775.0 276.0L777.6 282.0L780.4 271.0L783.0 273.0L785.8 282.0L788.4 270.0L791.2 274.0L793.8 271.0L796.6 281.0L799.2 274.0L801.8 268.0L804.6 269.0L807.2 263.0L810.0 267.0L812.6 264.0L815.4 264.0L818.0 262.0L820.8 261.0L823.4 256.0L826.2 254.0L829.0 260.0L831.6 254.0L834.4 255.0L837.0 242.0L839.8 246.0L842.4 248.0L845.2 247.0L847.8 246.0L850.6 237.0L853.2 243.0L856.0 245.0L858.6 244.0L861.4 243.0L864.0 233.0L866.8 231.0L869.4 224.6L872.2 232.0L874.8 242.0L877.6 223.0L880.2 234.0L883.0 233.0L885.6 238.6L888.4 236.6L891.0 239.0L893.8 241.0L896.4 246.0L899.2 252.0L901.8 237.4L904.6 236.6L907.2 252.0L910.0 236.0L912.6 238.0L915.4 233.0L918.0 236.0L920.8 252.0L923.4 236.0L926.2 239.0" stroke="#008000"/>
<path d="M767.00 285.60H926.48" stroke="#000" stroke-width="1.5" stroke-dasharray="4.9 2.1"/>
<path d="M767.00 250.60H926.48" stroke="#808080" stroke-width="1.5" stroke-dasharray="8.45 2.11 1.32 2.11"/>
</g>
<rect x="758.60" y="191.60" width="175.60" height="145.00" fill="none" stroke="#dbdbdb" stroke-width="1.25"/>
<text x="752.10" y="201.80" font-size="10.6" text-anchor="end" textLength="22.26" lengthAdjust="spacingAndGlyphs">0.85</text>
<text x="752.10" y="245.90" font-size="10.6" text-anchor="end" textLength="22.26" lengthAdjust="spacingAndGlyphs">0.80</text>
<text x="752.10" y="289.90" font-size="10.6" text-anchor="end" textLength="22.26" lengthAdjust="spacingAndGlyphs">0.75</text>
<text x="752.10" y="334.00" font-size="10.6" text-anchor="end" textLength="22.26" lengthAdjust="spacingAndGlyphs">0.70</text>
<text x="764.30" y="352.30" font-size="10.6" text-anchor="middle" textLength="6.36" lengthAdjust="spacingAndGlyphs">0</text>
<text x="818.36" y="352.30" font-size="10.6" text-anchor="middle" textLength="19.08" lengthAdjust="spacingAndGlyphs">200</text>
<text x="872.42" y="352.30" font-size="10.6" text-anchor="middle" textLength="19.08" lengthAdjust="spacingAndGlyphs">400</text>
<text x="926.48" y="352.30" font-size="10.6" text-anchor="middle" textLength="19.08" lengthAdjust="spacingAndGlyphs">600</text>
<text x="846.40" y="366.40" font-size="14.0" text-anchor="middle" textLength="28.12" lengthAdjust="spacingAndGlyphs">step</text>
<text x="725.70" y="266.05" font-size="14.0" text-anchor="middle" textLength="38.80" lengthAdjust="spacingAndGlyphs" transform="rotate(-90 725.70 266.05)">IFEval</text>
<rect x="248.2" y="378.8" width="460" height="42.4" rx="2.2" fill="#fff" stroke="#d6d6d6" stroke-width="1"/>
<path d="M253 389.8H280" stroke="#ff0000" stroke-width="1.4"/>
<text x="290.80" y="394.20" font-size="12.7" text-anchor="start" textLength="77.38" lengthAdjust="spacingAndGlyphs">CGPO CRPG</text>
<path d="M253 408.6H280" stroke="#0000ff" stroke-width="1.4"/>
<text x="290.80" y="413.00" font-size="12.7" text-anchor="start" textLength="88.74" lengthAdjust="spacingAndGlyphs">CGPO CODPO</text>
<path d="M406.3 389.8H433.3" stroke="#ffa500" stroke-width="1.4"/>
<text x="444.50" y="394.20" font-size="12.7" text-anchor="start" textLength="92.81" lengthAdjust="spacingAndGlyphs">CGPO CRRAFT</text>
<path d="M406.3 408.6H433.3" stroke="#008000" stroke-width="1.4"/>
<text x="444.50" y="413.00" font-size="12.7" text-anchor="start" textLength="25.91" lengthAdjust="spacingAndGlyphs">PPO</text>
<path d="M563 389.8H589" stroke="#000" stroke-width="1.4" stroke-dasharray="4.9 2.1"/>
<text x="600.00" y="394.20" font-size="12.7" text-anchor="start" textLength="85.32" lengthAdjust="spacingAndGlyphs">DPO warmup</text>
<path d="M563 408.6H589" stroke="#808080" stroke-width="1.4" stroke-dasharray="8.45 2.11 1.32 2.11"/>
<text x="600.00" y="413.00" font-size="12.7" text-anchor="start" textLength="86.67" lengthAdjust="spacingAndGlyphs">DPO baseline</text>
<g id="wm"><rect x="690" y="360.2" width="250" height="65" fill="#fff"/>
<clipPath id="gc"><rect x="670" y="360" width="20" height="50"/></clipPath>
<g clip-path="url(#gc)"><circle cx="690.8" cy="382.4" r="10.1" fill="#8a8a8a" fill-opacity="0.66"/><path d="M690.4 377.3Q687.7 377.2 687.5 380.6" fill="none" stroke="#fff" stroke-width="1.5"/></g>

<g fill="none" stroke="#1a1311" stroke-linecap="round">
<path d="M696.6 401.1A26.6 26.6 0 0 1 736.9 371.2Q738.2 372.5 737.3 374.8" stroke-width="2.5"/>
<path d="M711.1 416.1A27.2 27.2 0 0 0 743.4 376.8Q741.5 374.8 738.9 376.2" stroke-width="2.5"/>
</g>
<circle cx="696.6" cy="401.1" r="3.1" fill="#1a1311"/>
<circle cx="711.1" cy="416.1" r="3.1" fill="#1a1311"/>
<clipPath id="lb"><ellipse cx="720.7" cy="393.6" rx="17.6" ry="17.2"/></clipPath>
<ellipse cx="720.7" cy="393.6" rx="17.6" ry="17.2" fill="#fff"/>
<g clip-path="url(#lb)" fill="#e60012">
<circle cx="714.4" cy="379.9" r="4.3"/>
<circle cx="725.1" cy="387.5" r="5.0"/>
<circle cx="711.3" cy="390.6" r="3.8"/>
<circle cx="721.3" cy="401.3" r="4.1"/>
<circle cx="733.8" cy="399.0" r="4.0"/>
<circle cx="702.5" cy="394.6" r="3.2"/>
<circle cx="717.5" cy="410.2" r="3.4"/>
</g>
<ellipse cx="720.7" cy="393.6" rx="17.6" ry="17.2" fill="none" stroke="#1a1311" stroke-width="1.8"/>
<path d="M708.2 404.6L720.6 392.0L712.4 406.0Z" fill="#fff" stroke="none"/><path d="M720.8 391.6L708.0 404.6M721.0 392.6L712.2 406.4" stroke="#1a1311" stroke-width="1.15" fill="none" stroke-linecap="round"/>
<path d="M726.1 375.6L732.9 373.8L735.4 377.4L739.1 378.7L738.1 384.5L732.9 382.4L729.5 379.0Z" fill="#1a1311" stroke="#1a1311" stroke-width="1.6" stroke-linejoin="round"/>

<g transform="translate(755,366) scale(0.09407)" fill="none" stroke="#1a1311" stroke-width="29" stroke-linecap="round" stroke-linejoin="round">
<path d="M55 70L50 200L58 365"/>
<path d="M55 75L200 68L335 75"/>
<path d="M335 75L345 220L335 365"/>
<path d="M55 355L200 362L340 355"/>
<path d="M110 135L275 132" stroke-width="21"/>
<path d="M115 215L270 213" stroke-width="21"/>
<path d="M90 300L300 298" stroke-width="21"/>
<path d="M195 135L195 300" stroke-width="21"/>
<circle cx="255" cy="250" r="17" fill="#1a1311" stroke="none"/>
<path d="M400 135L520 125"/>
<path d="M465 65L465 335Q460 352 420 335"/>
<path d="M400 245L520 195"/>
<path d="M575 90Q570 140 545 175"/>
<path d="M570 88L650 80L650 135Q660 165 710 165"/>
<path d="M560 215L665 213Q640 290 520 355"/>
<path d="M575 255Q640 310 725 355"/>
</g>
<g transform="translate(824,366) scale(0.09407)" fill="none" stroke="#1a1311" stroke-width="29" stroke-linecap="round" stroke-linejoin="round">
<path d="M128 68L134 80"/>
<path d="M60 105L200 100"/>
<path d="M95 130L105 160"/>
<path d="M170 125L155 165"/>
<path d="M45 190L215 185"/>
<path d="M55 260L205 250"/>
<path d="M135 190L135 355"/>
<path d="M100 285L65 340"/>
<path d="M180 285L200 320"/>
<path d="M350 72L255 105"/>
<path d="M250 105L250 220L215 350"/>
<path d="M255 170L365 165"/>
<path d="M320 170L320 360"/>
<path d="M440 85L475 120"/>
<path d="M425 175L460 205"/>
<path d="M430 340L490 250"/>
<path d="M548 80L555 92"/>
<path d="M500 140L600 135"/>
<path d="M545 140L545 200L590 200L580 300L545 345"/>
<path d="M540 200L490 330"/>
<path d="M655 75L640 110"/>
<path d="M640 110L740 105"/>
<path d="M650 165L720 160L690 200"/>
<path d="M625 255L740 245"/>
<path d="M690 200L690 340L660 350"/>
</g>
<g transform="translate(865,366) scale(0.09407)" fill="none" stroke="#1a1311" stroke-width="29" stroke-linecap="round" stroke-linejoin="round">
<path d="M400 85L415 200L365 355"/>
<path d="M400 85L650 80"/>
<path d="M650 80L655 360"/>
<path d="M495 140L495 240L440 325"/>
<path d="M455 200L510 280"/>
<path d="M595 135L598 235L520 335"/>
<path d="M545 195L610 285"/>
</g>
<text x="761.1" y="416.7" font-size="11.9" text-anchor="middle" fill="#231f20" stroke="#231f20" stroke-width="0.3">w</text><text x="775.7" y="416.7" font-size="11.9" text-anchor="middle" fill="#231f20" stroke="#231f20" stroke-width="0.3">w</text><text x="790.6" y="416.7" font-size="11.9" text-anchor="middle" fill="#231f20" stroke="#231f20" stroke-width="0.3">w</text><text x="803.2" y="416.7" font-size="11.9" text-anchor="middle" fill="#231f20" stroke="#231f20" stroke-width="0.3">.</text><text x="812.3" y="416.7" font-size="11.9" text-anchor="middle" fill="#231f20" stroke="#231f20" stroke-width="0.3">s</text><text x="824.0" y="416.7" font-size="11.9" text-anchor="middle" fill="#231f20" stroke="#231f20" stroke-width="0.3">x</text><text x="835.3" y="416.7" font-size="11.9" text-anchor="middle" fill="#231f20" stroke="#231f20" stroke-width="0.3">s</text><text x="846.6" y="416.7" font-size="11.9" text-anchor="middle" fill="#231f20" stroke="#231f20" stroke-width="0.3">g</text><text x="858.3" y="416.7" font-size="11.9" text-anchor="middle" fill="#231f20" stroke="#231f20" stroke-width="0.3">y</text><text x="870.3" y="416.7" font-size="11.9" text-anchor="middle" fill="#231f20" stroke="#231f20" stroke-width="0.3">t</text><text x="880.4" y="416.7" font-size="11.9" text-anchor="middle" fill="#231f20" stroke="#231f20" stroke-width="0.3">r</text><text x="889.7" y="416.7" font-size="11.9" text-anchor="middle" fill="#231f20" stroke="#231f20" stroke-width="0.3">.</text><text x="899.2" y="416.7" font-size="11.9" text-anchor="middle" fill="#231f20" stroke="#231f20" stroke-width="0.3">c</text><text x="911.7" y="416.7" font-size="11.9" text-anchor="middle" fill="#231f20" stroke="#231f20" stroke-width="0.3">o</text><text x="927.5" y="416.7" font-size="11.9" text-anchor="middle" fill="#231f20" stroke="#231f20" stroke-width="0.3">m</text>
</g>
</svg>
</body></html>
